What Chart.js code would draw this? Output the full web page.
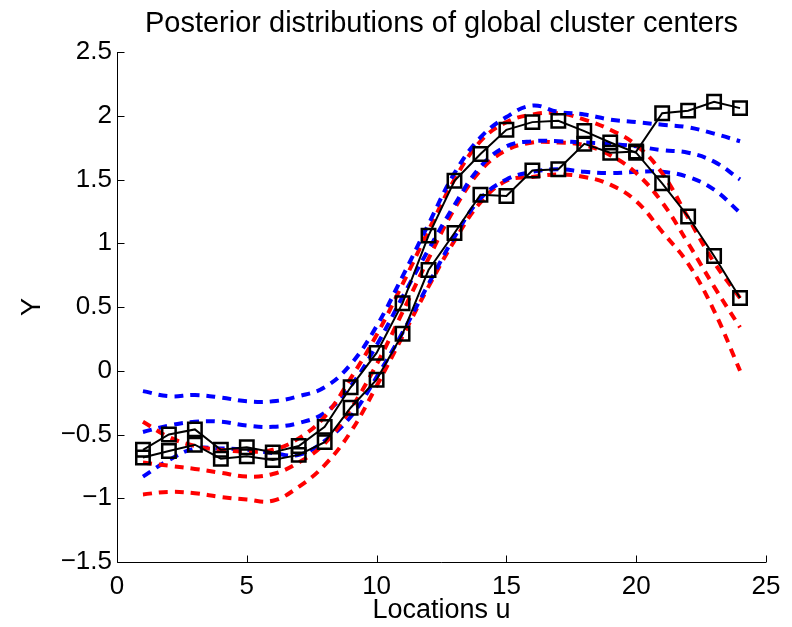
<!DOCTYPE html>
<html>
<head>
<meta charset="utf-8">
<title>Posterior distributions of global cluster centers</title>
<script src="https://cdn.jsdelivr.net/npm/chart.js@4.4.1/dist/chart.umd.min.js"></script>
<style>
  html, body { margin: 0; padding: 0; background: #fff; }
  #wrap { width: 792px; height: 627px; position: relative; }
</style>
</head>
<body>
<div id="wrap"><canvas id="chart"></canvas></div>
<script>
// ─── data ───────────────────────────────────────
const locations = [1, 2, 3, 4, 5, 6, 7, 8, 9, 10, 11, 12, 13, 14, 15, 16, 17, 18, 19, 20, 21, 22, 23, 24];

// observed cluster centers (black, square markers)
const centerA = [-0.62, -0.50, -0.46, -0.62, -0.60, -0.64, -0.59, -0.44, -0.13, 0.14, 0.53, 1.06,
                 1.49, 1.70, 1.89, 1.95, 1.96, 1.88, 1.79, 1.71, 1.47, 1.21, 0.90, 0.57];
const centerB = [-0.68, -0.63, -0.58, -0.69, -0.67, -0.70, -0.66, -0.56, -0.29, -0.07, 0.29, 0.79,
                 1.08, 1.38, 1.37, 1.57, 1.58, 1.78, 1.71, 1.72, 2.02, 2.04, 2.11, 2.06];

// posterior band, blue (upper / mean / lower)
const blueUpper = [-0.16, -0.20, -0.19, -0.21, -0.24, -0.24, -0.20, -0.13, 0.05, 0.35, 0.74, 1.15,
                   1.55, 1.83, 1.99, 2.08, 2.03, 2.01, 1.97, 1.95, 1.93, 1.91, 1.86, 1.80];
const blueMean  = [-0.48, -0.43, -0.40, -0.40, -0.43, -0.44, -0.41, -0.33, -0.12, 0.20, 0.58, 0.95,
                   1.30, 1.60, 1.76, 1.80, 1.80, 1.79, 1.78, 1.76, 1.73, 1.71, 1.64, 1.50];
const blueLower = [-0.83, -0.70, -0.61, -0.61, -0.62, -0.645, -0.66, -0.55, -0.36, -0.05, 0.30, 0.68,
                   1.05, 1.35, 1.50, 1.56, 1.58, 1.56, 1.55, 1.56, 1.56, 1.52, 1.42, 1.24];

// posterior band, red (upper / mean / lower)
const redUpper = [-0.40, -0.52, -0.59, -0.62, -0.635, -0.62, -0.53, -0.36, -0.06, 0.28, 0.68, 1.10,
                  1.50, 1.80, 1.95, 2.01, 2.02, 1.97, 1.89, 1.77, 1.55, 1.20, 0.85, 0.57];
const redMean  = [-0.72, -0.745, -0.77, -0.80, -0.83, -0.81, -0.72, -0.57, -0.30, 0.05, 0.46, 0.88,
                  1.27, 1.57, 1.73, 1.79, 1.79, 1.77, 1.69, 1.55, 1.32, 1.00, 0.66, 0.34];
const redLower = [-0.97, -0.95, -0.96, -0.99, -1.01, -1.02, -0.91, -0.74, -0.48, -0.12, 0.27, 0.66,
                  1.02, 1.32, 1.49, 1.52, 1.54, 1.52, 1.46, 1.33, 1.09, 0.84, 0.47, 0.00];

const xTicks = [0, 5, 10, 15, 20, 25];
const yTicks = [-1.5, -1, -0.5, 0, 0.5, 1, 1.5, 2, 2.5];

// ─── helpers ────────────────────────────────────
const FONT = "'Liberation Sans', Arial, Helvetica, sans-serif";
const toPts = ys => ys.map((v, i) => ({ x: locations[i], y: v }));

const dashed = (vals, color) => ({
  data: toPts(vals),
  borderColor: color,
  borderWidth: 4,
  borderDash: [9, 7],
  borderCapStyle: 'butt',
  tension: 0.4,
  pointRadius: 0,
  fill: false
});

const solid = vals => ({
  data: toPts(vals),
  borderColor: '#000',
  borderWidth: 2,
  tension: 0,
  pointStyle: 'rect',
  pointRadius: 9.5,
  pointBorderWidth: 2.5,
  pointBorderColor: '#000',
  pointBackgroundColor: 'rgba(0,0,0,0)',
  fill: false
});

// axis lines on left/bottom only, ticks pointing inward
const matlabAxes = {
  id: 'matlabAxes',
  afterDatasetsDraw(chart) {
    const { ctx, chartArea: a, scales: { x, y } } = chart;
    ctx.save();
    ctx.strokeStyle = '#000';
    ctx.lineWidth = 1;
    ctx.beginPath();
    const l = Math.round(a.left) + 0.5, b = Math.round(a.bottom) + 0.5;
    ctx.moveTo(l, a.top);
    ctx.lineTo(l, b);
    ctx.lineTo(a.right, b);
    x.ticks.forEach(t => {
      const px = Math.round(x.getPixelForValue(t.value)) + 0.5;
      ctx.moveTo(px, b);
      ctx.lineTo(px, b - 7);
    });
    y.ticks.forEach(t => {
      const py = Math.round(y.getPixelForValue(t.value)) + 0.5;
      ctx.moveTo(l, py);
      ctx.lineTo(l + 7, py);
    });
    ctx.stroke();
    ctx.restore();
  }
};

new Chart(document.getElementById('chart'), {
  type: 'line',
  data: {
    datasets: [
      solid(centerA),
      solid(centerB),
      dashed(blueUpper, '#0000ff'),
      dashed(redUpper, '#ff0000'),
      dashed(blueMean, '#0000ff'),
      dashed(redMean, '#ff0000'),
      dashed(blueLower, '#0000ff'),
      dashed(redLower, '#ff0000')
    ]
  },
  options: {
    responsive: true,
    maintainAspectRatio: false,
    animation: false,
    layout: { padding: { left: 0, right: 26, top: 0, bottom: 0 } },
    plugins: {
      legend: { display: false },
      tooltip: { enabled: false },
      title: {
        display: true,
        fullSize: false,
        text: 'Posterior distributions of global cluster centers',
        color: '#000',
        font: { family: FONT, size: 29, weight: 'normal', lineHeight: 1.2 },
        padding: { top: 7, bottom: 10.2 }
      }
    },
    scales: {
      x: {
        type: 'linear',
        min: 0, max: 25,
        afterBuildTicks: s => { s.ticks = xTicks.map(v => ({ value: v })); },
        afterFit: s => { s.height = 65; },
        grid: { display: false, drawTicks: false },
        border: { display: false },
        ticks: {
          color: '#000',
          padding: 9,
          maxRotation: 0,
          font: { family: FONT, size: 26 }
        },
        title: {
          display: true,
          text: 'Locations u',
          color: '#000',
          font: { family: FONT, size: 27 },
          padding: { top: 0, bottom: 0 }
        }
      },
      y: {
        type: 'linear',
        min: -1.5, max: 2.5,
        afterBuildTicks: s => { s.ticks = yTicks.map(v => ({ value: v })); },
        afterFit: s => { s.width = 117; },
        grid: { display: false, drawTicks: false },
        border: { display: false },
        ticks: {
          color: '#000',
          padding: 5,
          font: { family: FONT, size: 26 },
          callback: v => String(v).replace('-', '\u2212')
        },
        title: {
          display: true,
          text: 'Y',
          color: '#000',
          font: { family: FONT, size: 27 },
          padding: { top: 16, bottom: 0 }
        }
      }
    }
  },
  plugins: [matlabAxes]
});
</script>
</body>
</html>
